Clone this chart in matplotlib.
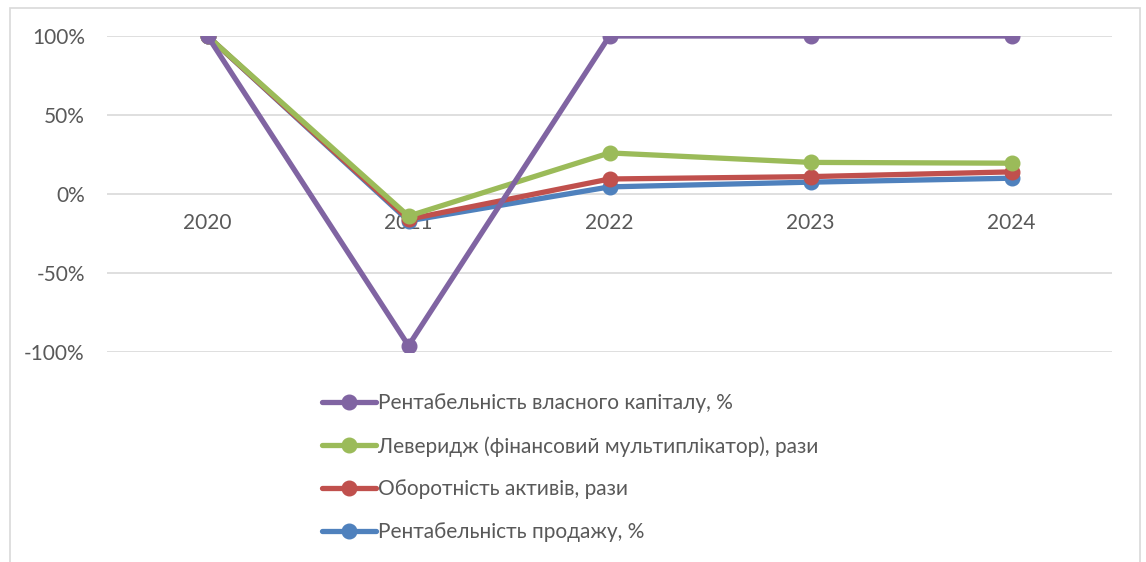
import matplotlib
matplotlib.use("Agg")
import matplotlib.pyplot as plt
from matplotlib.patches import Rectangle
from matplotlib.ticker import FuncFormatter

plt.rcParams['font.family'] = ['Lato', 'DejaVu Sans']

years = ["2020", "2021", "2022", "2023", "2024"]
roe = [100, -96, 100, 100, 100]
leverage = [100, -14, 26, 20, 19.5]
asset_turnover = [100, -16, 9.5, 11, 14]
sales_margin = [100, -17, 4.5, 7.5, 10]

labels = [
    "Рентабельність власного капіталу, %",
    "Леверидж (фінансовий мультиплікатор), рази",
    "Оборотність активів, рази",
    "Рентабельність продажу, %",
]
colors = ["#8064A2", "#9BBB59", "#C0504D", "#4F81BD"]
series = [roe, leverage, asset_turnover, sales_margin]

text_color = "#595959"
grid_color = "#d9d9d9"
fs = 15

fig = plt.figure(figsize=(11.46, 5.62), dpi=100)
ax = fig.add_axes([107 / 1146, 1 - 352 / 562, (1112 - 107) / 1146, 316 / 562])

x = list(range(len(years)))
handles = {}
# draw bottom series first so the first legend entry sits on top
for lab, col, vals, z in reversed(list(zip(labels, colors, series, [6, 5, 4, 3]))):
    h, = ax.plot(x, vals, color=col, lw=3.8, marker="o", ms=10.5,
                 solid_capstyle="round", zorder=z, label=lab)
    handles[lab] = h

ax.set_xlim(-0.5, 4.5)
ax.set_ylim(-100, 100)
ax.set_yticks([-100, -50, 0, 50, 100])
ax.yaxis.set_major_formatter(FuncFormatter(lambda v, p: f"{int(v)}%"))
ax.grid(axis="y", color=grid_color, lw=1.2)
ax.set_axisbelow(True)
for s in ax.spines.values():
    s.set_visible(False)
ax.spines['bottom'].set_position(('data', 0))
ax.set_xticks(x)
ax.set_xticklabels(years)
ax.tick_params(axis="x", length=0, pad=14, labelsize=fs, labelcolor=text_color)
ax.tick_params(axis="y", length=0, pad=16, labelsize=fs, labelcolor=text_color)

leg = fig.legend([handles[l] for l in labels], labels,
                 loc="upper left", bbox_to_anchor=(322 / 1146, 1 - 393 / 562),
                 frameon=False, fontsize=fs, labelcolor=text_color,
                 handlelength=2.6, handletextpad=0.1, labelspacing=1.1,
                 borderaxespad=0, borderpad=0)

fig.patches.append(Rectangle((10 / 1146, -0.01), 1130 / 1146, 1 - 8 / 562 + 0.01,
                             transform=fig.transFigure, fill=False,
                             edgecolor=grid_color, lw=1.2))

fig.savefig("out.png", dpi=100)
